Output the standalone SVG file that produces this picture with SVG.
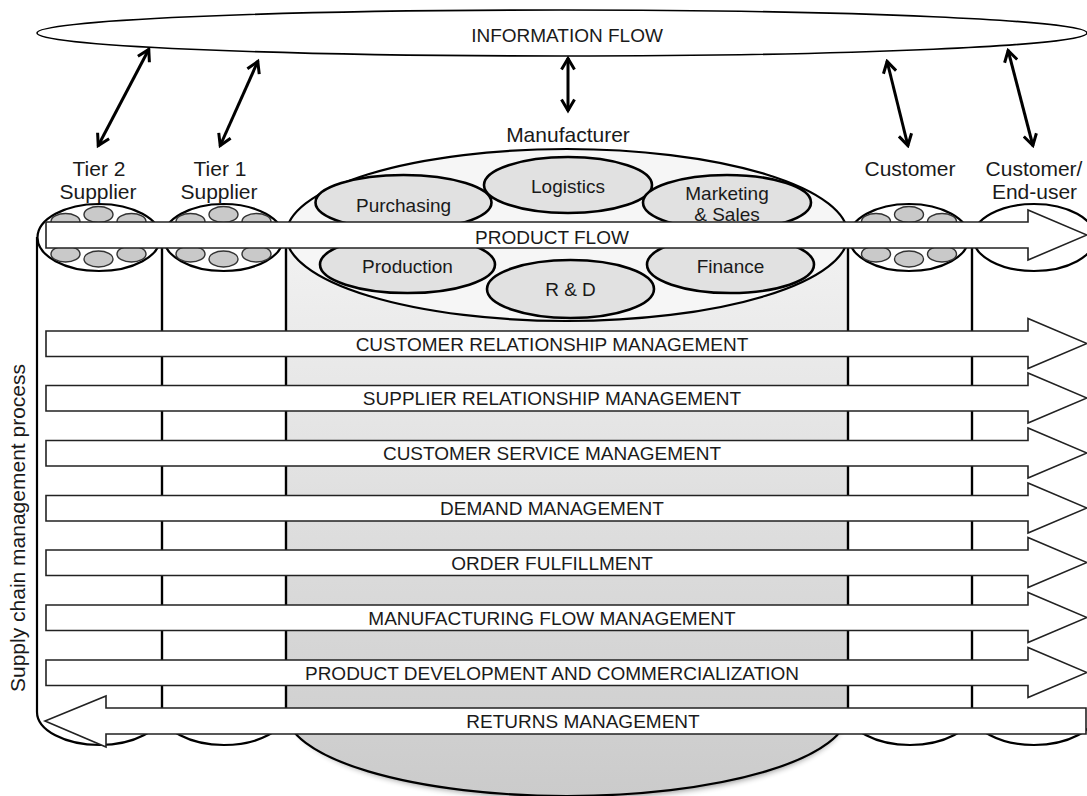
<svg xmlns="http://www.w3.org/2000/svg" width="1087" height="796" viewBox="0 0 1087 796">
  <defs>
    <style>
      .t { font-family: "Liberation Sans", Arial, sans-serif; fill: #1a1a1a; text-anchor: middle; }
      .lbl { font-size: 21px; }
      .bar-t { font-size: 19px; }
      .dept-t { font-size: 19px; }
      .bar { fill: #ffffff; stroke: #222; stroke-width: 1.6; stroke-linejoin: miter; }
      .edge { fill: none; stroke: #000; stroke-width: 2.2; }
      .cap { fill: #ffffff; stroke: #000; stroke-width: 2.2; }
      .pebble { fill: #c9c9c9; stroke: #333; stroke-width: 1.4; }
      .dept { fill: #e1e1e1; stroke: #000; stroke-width: 2.6; }
      .info { stroke: #000; stroke-width: 3; fill: none; marker-start: url(#vee); marker-end: url(#vee); }
    </style>
    <marker id="vee" viewBox="0 0 16 16" refX="13.5" refY="8" markerWidth="16" markerHeight="16" markerUnits="userSpaceOnUse" orient="auto-start-reverse">
      <path d="M2,1.5 L13,8 L2,14.5" fill="none" stroke="#000" stroke-width="3" stroke-linejoin="miter"/>
    </marker>
    <linearGradient id="mfgBody" x1="0" y1="235" x2="0" y2="796" gradientUnits="userSpaceOnUse">
      <stop offset="0" stop-color="#f2f2f2"/>
      <stop offset="1" stop-color="#cbcbcb"/>
    </linearGradient>
    <filter id="soft" x="-10%" y="-20%" width="120%" height="160%">
      <feGaussianBlur stdDeviation="3"/>
    </filter>
    <!-- six pebbles for a supplier / customer disc, positioned around the disc centre -->
    <g id="pebbles">
      <ellipse class="pebble" cx="-33" cy="-16" rx="14.5" ry="8"/>
      <ellipse class="pebble" cx="0" cy="-23" rx="14.5" ry="8"/>
      <ellipse class="pebble" cx="33" cy="-16" rx="14.5" ry="8"/>
      <ellipse class="pebble" cx="-33" cy="16.5" rx="14.5" ry="8"/>
      <ellipse class="pebble" cx="0" cy="21.5" rx="14.5" ry="8"/>
      <ellipse class="pebble" cx="33" cy="16.5" rx="14.5" ry="8"/>
    </g>
  </defs>

  <rect width="1087" height="796" fill="#ffffff"/>

  <!-- information flow -->
  <g id="information-flow">
    <ellipse cx="562" cy="33" rx="525" ry="23" fill="#ffffff" stroke="#000" stroke-width="1.6"/>
    <text class="t bar-t" x="567" y="42">INFORMATION FLOW</text>
  </g>

  <!-- manufacturer cylinder -->
  <g id="manufacturer">
    <path d="M292,712 A275,82 0 0 0 842,712 Z" fill="#000" opacity="0.45" filter="url(#soft)" transform="translate(2,4)"/>
    <path d="M286,235 L286,712 A281,84 0 0 0 848,712 L848,235 Z" fill="url(#mfgBody)"/>
    <path class="edge" d="M286,235 L286,712 A281,84 0 0 0 848,712 L848,235"/>
    <ellipse cx="567" cy="235" rx="281" ry="86" fill="#f6f6f6" stroke="#000" stroke-width="2.2"/>
    <ellipse class="dept" cx="403.5" cy="202.5" rx="88" ry="27.5"/>
    <ellipse class="dept" cx="568" cy="185" rx="84" ry="28"/>
    <ellipse class="dept" cx="727" cy="202.5" rx="84" ry="27.5"/>
    <ellipse class="dept" cx="407.5" cy="264.5" rx="87.5" ry="28.5"/>
    <ellipse class="dept" cx="570.5" cy="289" rx="83.5" ry="29"/>
    <ellipse class="dept" cx="730.5" cy="264.5" rx="83.5" ry="28.5"/>
    <text class="t lbl" x="568" y="142">Manufacturer</text>
  </g>

  <!-- tier 2 supplier cylinder -->
  <g id="tier2-supplier">
    <path class="edge" d="M37,237 L37,712 A62.5,33 0 0 0 162,712 L162,237"/>
    <ellipse class="cap" cx="99" cy="237.5" rx="61.5" ry="33.5"/>
    <use href="#pebbles" x="98.5" y="237.5"/>
    <text class="t lbl" x="99" y="176">Tier 2</text>
    <text class="t lbl" x="98" y="199">Supplier</text>
  </g>

  <!-- tier 1 supplier cylinder -->
  <g id="tier1-supplier">
    <path class="edge" d="M162,237 L162,712 A62,33 0 0 0 286,712 L286,237"/>
    <ellipse class="cap" cx="223.5" cy="237.5" rx="60" ry="33.5"/>
    <use href="#pebbles" x="223.5" y="237.5"/>
    <text class="t lbl" x="220" y="176">Tier 1</text>
    <text class="t lbl" x="219" y="199">Supplier</text>
  </g>

  <!-- customer cylinder -->
  <g id="customer">
    <path class="edge" d="M848,237 L848,712 A62,33 0 0 0 972,712 L972,237"/>
    <ellipse class="cap" cx="909" cy="237.5" rx="60" ry="33.5"/>
    <use href="#pebbles" x="909" y="237.5"/>
    <text class="t lbl" x="910" y="176">Customer</text>
  </g>

  <!-- end-user cylinder -->
  <g id="end-user">
    <path class="edge" d="M972,237 L972,712 A62,33 0 0 0 1096,712 L1096,237"/>
    <ellipse class="cap" cx="1034" cy="237.5" rx="61" ry="33.5"/>
    <text class="t lbl" x="1034" y="176">Customer/</text>
    <text class="t lbl" x="1034.5" y="199">End-user</text>
  </g>

  <!-- connectors: information links and process flows -->
  <g id="connectors">
    <line class="info" x1="149" y1="49" x2="98" y2="146"/>
    <line class="info" x1="258" y1="61" x2="220" y2="146"/>
    <line class="info" x1="568" y1="58" x2="568" y2="111"/>
    <line class="info" x1="887" y1="61" x2="908" y2="146"/>
    <line class="info" x1="1008" y1="50" x2="1033" y2="146"/>

    <polygon class="bar" points="46,222 1028,222 1028,210 1087,235 1028,260 1028,248 46,248"/>
    <polygon class="bar" points="46,331 1028,331 1028,318.5 1087,343.5 1028,368.5 1028,356.5 46,356.5"/>
    <polygon class="bar" points="46,385.5 1028,385.5 1028,373 1087,398 1028,423 1028,411 46,411"/>
    <polygon class="bar" points="46,440.5 1028,440.5 1028,428 1087,453 1028,478 1028,466 46,466"/>
    <polygon class="bar" points="46,495.5 1028,495.5 1028,483 1087,508 1028,533 1028,521 46,521"/>
    <polygon class="bar" points="46,550 1028,550 1028,537.5 1087,562.5 1028,587.5 1028,575.5 46,575.5"/>
    <polygon class="bar" points="46,605 1028,605 1028,592.5 1087,617.5 1028,642.5 1028,630.5 46,630.5"/>
    <polygon class="bar" points="46,660 1028,660 1028,647.5 1087,672.5 1028,697.5 1028,685.5 46,685.5"/>
    <polygon class="bar" points="1086,708 106,708 106,696 45,721 106,747 106,734 1086,734"/>
  </g>

  <!-- process labels -->
  <g id="process-labels">
    <text class="t bar-t" x="552" y="244">PRODUCT FLOW</text>
    <text class="t bar-t" x="552" y="350.5">CUSTOMER RELATIONSHIP MANAGEMENT</text>
    <text class="t bar-t" x="552" y="405">SUPPLIER RELATIONSHIP MANAGEMENT</text>
    <text class="t bar-t" x="552" y="460">CUSTOMER SERVICE MANAGEMENT</text>
    <text class="t bar-t" x="552" y="515">DEMAND MANAGEMENT</text>
    <text class="t bar-t" x="552" y="569.5">ORDER FULFILLMENT</text>
    <text class="t bar-t" x="552" y="624.5">MANUFACTURING FLOW MANAGEMENT</text>
    <text class="t bar-t" x="552" y="679.5">PRODUCT DEVELOPMENT AND COMMERCIALIZATION</text>
    <text class="t bar-t" x="583" y="728">RETURNS MANAGEMENT</text>
  </g>

  <!-- department labels -->
  <g id="department-labels">
    <text class="t dept-t" x="403.5" y="212">Purchasing</text>
    <text class="t dept-t" x="568" y="193">Logistics</text>
    <text class="t dept-t" x="727" y="200">Marketing</text>
    <text class="t dept-t" x="727" y="221">&amp; Sales</text>
    <text class="t dept-t" x="407.5" y="273">Production</text>
    <text class="t dept-t" x="570.5" y="296">R &amp; D</text>
    <text class="t dept-t" x="730.5" y="273">Finance</text>
  </g>

  <g id="side-label">
    <text class="t lbl" transform="translate(25,528) rotate(-90)">Supply chain management process</text>
  </g>
</svg>
